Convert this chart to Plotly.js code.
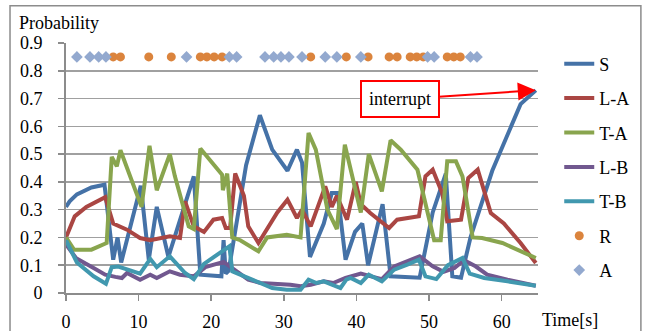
<!DOCTYPE html>
<html>
<head>
<meta charset="utf-8">
<script src="https://cdn.plot.ly/plotly-3.0.1.min.js"></script>
<style>html,body{margin:0;padding:0;background:#fff;}#chart{width:648px;height:331px;}</style>
</head>
<body>
<div id="chart"></div>
<script>
// ---- data ----
var S_t = [0, 0.5, 1.5, 3.5, 5.3, 6.5, 7.1, 7.6, 10.3, 11.4, 12.5, 14.1, 17.6, 18.5, 21.4, 21.7, 22.0, 22.4, 24.8, 26.7, 28.4, 30.5, 31.8, 32.5, 33.6, 35.5, 36.6, 37.4, 38.5, 39.8, 40.8, 41.6, 43.6, 44.7, 48.7, 50.5, 52.3, 53.2, 54.4, 55.7, 58.7, 60.3, 61.4, 62.6, 64.7];
var S_v = [0.31, 0.33, 0.355, 0.38, 0.39, 0.12, 0.2, 0.11, 0.386, 0.12, 0.31, 0.13, 0.42, 0.066, 0.06, 0.19, 0.07, 0.08, 0.46, 0.64, 0.516, 0.44, 0.516, 0.47, 0.13, 0.25, 0.36, 0.36, 0.12, 0.22, 0.25, 0.1, 0.32, 0.06, 0.055, 0.29, 0.43, 0.06, 0.055, 0.2, 0.44, 0.54, 0.61, 0.68, 0.73];

var LA_t = [0, 1.2, 2.8, 5.4, 6.5, 8.4, 10.2, 11.6, 14.3, 15.7, 16.4, 17.6, 19.0, 20.3, 21.5, 22.0, 22.6, 23.3, 24.5, 25.1, 26.5, 27.9, 29.1, 30.5, 31.8, 32.5, 33.7, 35.7, 36.6, 37.3, 38.7, 39.9, 40.6, 41.9, 44.5, 45.6, 48.6, 49.5, 50.5, 51.8, 52.5, 54.4, 55.4, 56.7, 58.5, 60.3, 62.6, 64.7];
var LA_v = [0.2, 0.276, 0.31, 0.345, 0.25, 0.228, 0.198, 0.19, 0.204, 0.198, 0.33, 0.24, 0.22, 0.264, 0.27, 0.234, 0.234, 0.43, 0.35, 0.24, 0.18, 0.24, 0.29, 0.336, 0.27, 0.3, 0.24, 0.384, 0.31, 0.35, 0.264, 0.4, 0.32, 0.288, 0.234, 0.264, 0.276, 0.42, 0.444, 0.36, 0.258, 0.264, 0.414, 0.444, 0.288, 0.25, 0.18, 0.108];

var TA_t = [0, 1.1, 3.5, 5.6, 6.3, 7.0, 7.5, 10.4, 11.5, 12.5, 14.3, 15.0, 16.9, 17.6, 18.5, 20.5, 21.5, 21.6, 22.2, 22.9, 24.0, 26.5, 27.7, 30.4, 32.3, 33.4, 34.4, 36.0, 37.3, 38.4, 39.4, 40.6, 41.7, 43.5, 44.7, 46.1, 48.4, 50.7, 51.6, 52.5, 53.7, 54.6, 56.0, 57.3, 60.1, 62.2, 64.7];
var TA_v = [0.2, 0.156, 0.156, 0.18, 0.49, 0.456, 0.514, 0.31, 0.53, 0.37, 0.5, 0.42, 0.24, 0.23, 0.52, 0.46, 0.426, 0.37, 0.43, 0.2, 0.19, 0.15, 0.2, 0.21, 0.2, 0.576, 0.516, 0.3, 0.23, 0.534, 0.42, 0.29, 0.5, 0.366, 0.55, 0.516, 0.444, 0.19, 0.19, 0.474, 0.474, 0.42, 0.2, 0.198, 0.18, 0.156, 0.126];

var LB_t = [0, 1.4, 3.8, 5.4, 6.8, 7.7, 8.4, 10.2, 11.6, 12.5, 14.3, 15.7, 17.6, 19.2, 21.7, 22.6, 25.1, 26.8, 30.9, 32.3, 33.7, 35.5, 36.8, 38.5, 40.6, 42.0, 43.5, 45.2, 47.0, 48.7, 50.5, 52.0, 53.5, 54.8, 56.4, 58.0, 60.8, 64.7];
var LB_v = [0.175, 0.125, 0.09, 0.066, 0.058, 0.054, 0.072, 0.048, 0.066, 0.054, 0.078, 0.066, 0.06, 0.093, 0.112, 0.096, 0.048, 0.036, 0.03, 0.024, 0.03, 0.042, 0.036, 0.054, 0.07, 0.06, 0.05, 0.096, 0.114, 0.132, 0.096, 0.076, 0.09, 0.118, 0.096, 0.066, 0.048, 0.026];

var TB_t = [0, 1.5, 3.8, 5.5, 6.3, 7.2, 10.2, 11.6, 12.5, 14.3, 16.4, 17.6, 19.0, 21.2, 22.5, 22.9, 25.1, 26.5, 28.4, 30.4, 32.3, 33.4, 34.5, 35.5, 37.8, 38.6, 39.2, 40.6, 41.7, 43.5, 45.2, 47.0, 48.6, 49.5, 51.0, 52.6, 54.6, 55.6, 57.6, 60.8, 64.7];
var TB_v = [0.19, 0.11, 0.06, 0.033, 0.093, 0.095, 0.07, 0.123, 0.093, 0.132, 0.072, 0.05, 0.105, 0.144, 0.168, 0.078, 0.054, 0.042, 0.018, 0.012, 0.012, 0.048, 0.036, 0.042, 0.018, 0.048, 0.054, 0.036, 0.066, 0.042, 0.084, 0.102, 0.12, 0.06, 0.05, 0.1, 0.126, 0.07, 0.054, 0.042, 0.026];

var R_t = [6.5, 7.5, 11.4, 14.5, 18.5, 19.4, 20.4, 21.5, 33.7, 38.6, 41.6, 44.5, 45.6, 47.4, 48.3, 49.2, 52.5, 53.4, 54.3];
var A_t = [1.5, 3.3, 4.5, 5.5, 16.6, 22.5, 23.5, 27.4, 28.6, 29.6, 30.7, 32.5, 35.7, 37.3, 40.6, 49.8, 50.7, 55.7, 56.6];
var MARK_LEVEL = 0.85;

var xTicks = [0, 10, 20, 30, 40, 50, 60];
var yTicks = [0, 0.1, 0.2, 0.3, 0.4, 0.5, 0.6, 0.7, 0.8, 0.9];
var yTickText = ['0', '0.1', '0.2', '0.3', '0.4', '0.5', '0.6', '0.7', '0.8', '0.9'];

// ---- chart ----
var FONT = 'Liberation Serif, serif';
var FS = 18;
function lineTrace(name, t, v, color, g) {
  return {x: t, y: v, name: name, type: 'scatter', mode: 'lines', legendgroup: g,
          line: {color: color, width: 4}};
}
function fill(n, val) { return n.map(function () { return val; }); }

var traces = [
  lineTrace('S', S_t, S_v, '#4572A7', 'g1'),
  lineTrace('L-A', LA_t, LA_v, '#AA4643', 'g2'),
  lineTrace('T-A', TA_t, TA_v, '#89A54E', 'g3'),
  lineTrace('L-B', LB_t, LB_v, '#71588F', 'g4'),
  lineTrace('T-B', TB_t, TB_v, '#4198AF', 'g5'),
  {x: R_t, y: fill(R_t, MARK_LEVEL), name: 'R', type: 'scatter', mode: 'markers', legendgroup: 'g6',
   marker: {symbol: 'circle', size: 9, color: '#DB843D'}},
  {x: A_t, y: fill(A_t, MARK_LEVEL), name: 'A', type: 'scatter', mode: 'markers', legendgroup: 'g7',
   marker: {symbol: 'diamond', size: 9, color: '#93A9CF'}}
];

var layout = {
  width: 648, height: 331,
  margin: {l: 66, r: 110, t: 43, b: 38},
  paper_bgcolor: '#fff', plot_bgcolor: '#fff',
  font: {family: FONT, size: FS, color: '#000'},
  showlegend: true,
  legend: {x: 1.045, xanchor: 'left', y: 0.99, yanchor: 'top', tracegroupgap: 8,
           font: {family: FONT, size: FS, color: '#000'}, bgcolor: 'rgba(0,0,0,0)'},
  xaxis: {range: [0, 65], tickvals: xTicks, ticktext: xTicks.map(String),
          showgrid: false, zeroline: false, showline: true, linecolor: '#8c8c8c', linewidth: 2,
          ticks: 'outside', ticklen: 6, tickwidth: 1.5, tickcolor: '#8c8c8c', ticklabelstandoff: 5,
          tickfont: {family: FONT, size: FS, color: '#000'}},
  yaxis: {range: [0, 0.9], tickvals: yTicks, ticktext: yTickText,
          showgrid: true, gridcolor: '#a0a0a0', gridwidth: 1.5, zeroline: false,
          showline: true, linecolor: '#8c8c8c', linewidth: 2,
          ticks: 'outside', ticklen: 6, tickwidth: 1.5, tickcolor: '#8c8c8c', ticklabelstandoff: 12,
          tickfont: {family: FONT, size: FS, color: '#000'}},
  shapes: [
    {type: 'rect', xref: 'paper', yref: 'paper', x0: -0.1186, x1: 1.218, y0: -0.2, y1: 1.149,
     line: {color: '#8c8c8c', width: 1.5}, fillcolor: 'rgba(0,0,0,0)', layer: 'below'}
  ],
  annotations: [
    {text: 'Probability', xref: 'paper', yref: 'paper', x: -0.104, y: 1.081, xanchor: 'left', yanchor: 'middle',
     showarrow: false, font: {family: FONT, size: FS, color: '#000'}},
    {text: 'Time[s]', xref: 'paper', yref: 'paper', x: 1.004, y: -0.107, xanchor: 'left', yanchor: 'middle',
     showarrow: false, font: {family: FONT, size: FS, color: '#000'}},
    {text: 'interrupt', x: S_t[S_t.length - 1], y: S_v[S_v.length - 1], xref: 'x', yref: 'y',
     showarrow: true, ax: -136, ay: 9, arrowcolor: '#ff0000', arrowwidth: 2, arrowhead: 2, arrowsize: 1.8,
     bordercolor: '#ff0000', borderwidth: 2, borderpad: 7, bgcolor: '#fff',
     font: {family: FONT, size: FS, color: '#000'}}
  ]
};

Plotly.newPlot('chart', traces, layout, {displayModeBar: false, staticPlot: true});
</script>
</body>
</html>
